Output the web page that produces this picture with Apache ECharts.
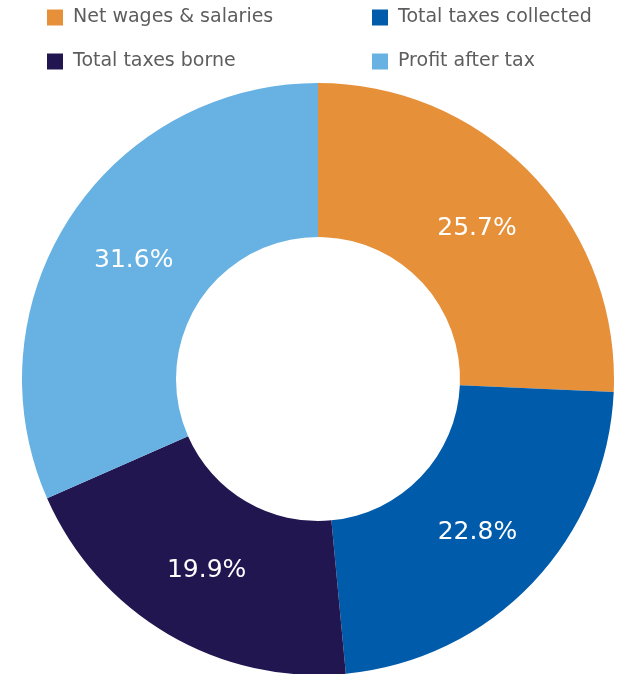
<!DOCTYPE html>
<html>
<head>
<meta charset="utf-8">
<script src="https://cdn.jsdelivr.net/npm/echarts@6/dist/echarts.min.js"></script>
<style>
  html, body { margin: 0; padding: 0; background: #ffffff; }
  #chart { width: 619px; height: 674px; }
</style>
</head>
<body>
<div id="chart"></div>
<script>
// Share of total value distributed, by component (%)
const categories = ['Net wages & salaries', 'Total taxes collected', 'Total taxes borne', 'Profit after tax'];
const shares = [25.7, 22.8, 19.9, 31.6];
const colors = ['#E6903A', '#005BAA', '#21164F', '#67B2E3'];

const FONT = 'DejaVu Sans, Verdana, sans-serif';
const CENTER = [318, 379];

const chart = echarts.init(document.getElementById('chart'), null, { renderer: 'canvas' });

const legendText = {
  color: '#5d5d5d',
  fontFamily: FONT,
  fontSize: 19,
  padding: [0, 0, 0, 5]
};

function legendColumn(names, left) {
  return {
    data: names,
    orient: 'vertical',
    left: left,
    top: 8,
    padding: 0,
    itemWidth: 16,
    itemHeight: 16,
    itemGap: 25,
    icon: 'rect',
    selectedMode: false,
    textStyle: legendText
  };
}

const sliceData = categories.map((name, i) => ({ name, value: shares[i] }));

chart.setOption({
  animation: false,
  color: colors,
  legend: [
    legendColumn([categories[0], categories[2]], 47),
    legendColumn([categories[1], categories[3]], 372)
  ],
  series: [
    {
      // the donut ring itself
      type: 'pie',
      center: CENTER,
      radius: [142, 296],
      startAngle: 90,
      clockwise: true,
      label: { show: false },
      labelLine: { show: false },
      emphasis: { disabled: true },
      silent: true,
      data: sliceData
    },
    {
      // percentage labels, placed on a slightly narrower ring
      type: 'pie',
      center: CENTER,
      radius: [142, 292],
      startAngle: 90,
      clockwise: true,
      silent: true,
      legendHoverLink: false,
      itemStyle: { color: 'rgba(0,0,0,0)' },
      label: {
        show: true,
        position: 'inside',
        color: '#ffffff',
        fontFamily: FONT,
        fontSize: 25,
        offset: [0, 2],
        formatter: p => p.value.toFixed(1) + '%'
      },
      labelLine: { show: false },
      emphasis: { disabled: true },
      data: sliceData
    }
  ]
});
</script>
</body>
</html>
